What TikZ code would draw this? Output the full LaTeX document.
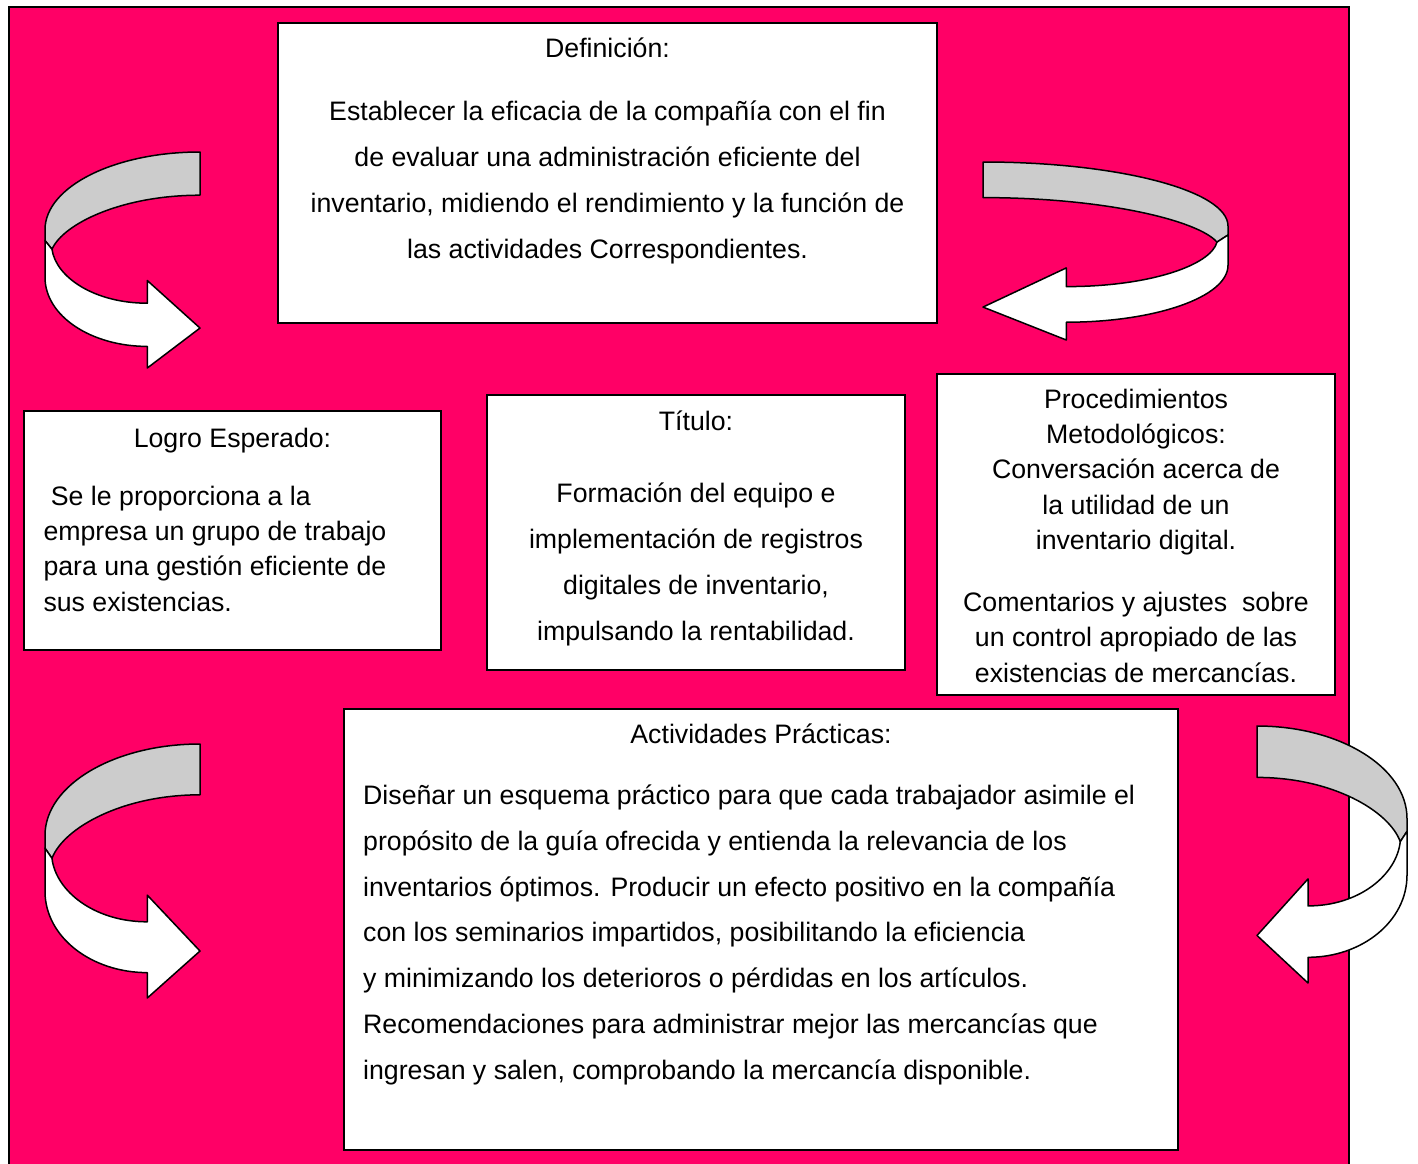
\documentclass[tikz,border=0pt]{standalone}
\usepackage{fontspec}
\setmainfont{Liberation Sans}
\usetikzlibrary{positioning}

\definecolor{frame-pink}{HTML}{FF0066}

\tikzstyle{panel} = [draw, rectangle, fill=white, line width=2pt, inner sep=0pt, anchor=north west]
\tikzstyle{heading} = [inner sep=0pt, anchor=base, font=\fontsize{26.7}{46}\selectfont]
\tikzstyle{loose-text} = [inner sep=0pt, font=\fontsize{26.7}{45.7}\selectfont]
\tikzstyle{tight-text} = [inner sep=0pt, font=\fontsize{26.7}{35.3}\selectfont]
\tikzstyle{ribbon-back} = [draw, fill=gray!40, line width=1.5pt, line join=round]
\tikzstyle{ribbon-front} = [draw, fill=white, line width=1.5pt, line join=round]

\begin{document}
\begin{tikzpicture}[x=1pt, y=-1pt]

	\clip (0,0) rectangle (1418,1163);
	\fill[white] (0,0) rectangle (1418,1163);
	\draw[fill=frame-pink, line width=2.5pt] (9,7) rectangle (1349,1180);

	% curved arrows
	\foreach \ax/\ay/\sx/\sy in {45/152/155/216, 1228/162/-245/178, 45/744/155/254, 1407/726/-150/257}{%
		\begin{scope}[shift={(\ax,\ay)}, xscale=\sx, yscale=\sy]
			\draw[ribbon-back] (1,0) .. controls (0.45,0) and (0,0.16) .. (0,0.36) -- (0,0.41) -- (0.045,0.45) .. controls (0.12,0.33) and (0.5,0.2) .. (1,0.2) -- cycle;
			\draw[ribbon-front] (0,0.41) -- (0.045,0.45) .. controls (0.07,0.58) and (0.32,0.7) .. (0.66,0.7) -- (0.66,0.595) -- (1,0.815) -- (0.66,1) -- (0.66,0.9) .. controls (0.3,0.9) and (0,0.76) .. (0,0.58) -- cycle;
		\end{scope}}

	\node [panel, minimum width=659pt, minimum height=300pt] (def) at (277,22) {};
	\node [panel, minimum width=417pt, minimum height=239pt] (logro) at (23,410) {};
	\node [panel, minimum width=418pt, minimum height=275pt] (titulo) at (486,394) {};
	\node [panel, minimum width=398pt, minimum height=321pt] (proc) at (936,373) {};
	\node [panel, minimum width=834pt, minimum height=441pt] (act) at (343,708) {};

	% texts hang on their last baseline
	\node [heading] (def-title) at ([yshift=-35pt]def.north) {Definición:};
	\node [loose-text, align=center, anchor=base] (def-text) at ([yshift=-236pt]def.north) {Establecer la eficacia de la compañía con el fin\\de evaluar una administración eficiente del\\inventario, midiendo el rendimiento y la función de\\las actividades Correspondientes.};

	\node [heading] (logro-title) at ([yshift=-37pt]logro.north) {Logro Esperado:};
	\node [tight-text, align=left, anchor=base west] (logro-text) at ([xshift=20.3pt, yshift=-201pt]logro.north west) {\ Se le proporciona a la\\empresa un grupo de trabajo\\para una gestión eficiente de\\sus existencias.};

	\node [heading] (titulo-title) at ([yshift=-36pt]titulo.north) {Título:};
	\node [loose-text, align=center, anchor=base] (titulo-text) at ([yshift=-246pt]titulo.north) {Formación del equipo e\\implementación de registros\\digitales de inventario,\\impulsando la rentabilidad.};

	\node [tight-text, align=center, anchor=base] (proc-text) at ([yshift=-309pt]proc.north) {Procedimientos\\Metodológicos:\\Conversación acerca de\\la utilidad de un\\inventario digital.\\[26.7pt]Comentarios y ajustes\ \ sobre\\un control apropiado de las\\existencias de mercancías.};

	\node [heading] (act-title) at ([yshift=-35pt]act.north) {Actividades Prácticas:};
	\node [loose-text, align=left, anchor=base west] (act-text) at ([xshift=20pt, yshift=-371pt]act.north west) {Diseñar un esquema práctico para que cada trabajador asimile el\\propósito de la guía ofrecida y entienda la relevancia de los\\inventarios óptimos. Producir un efecto positivo en la compañía\\con los seminarios impartidos, posibilitando la eficiencia\\y minimizando los deterioros o pérdidas en los artículos.\\Recomendaciones para administrar mejor las mercancías que\\ingresan y salen, comprobando la mercancía disponible.};

\end{tikzpicture}
\end{document}
